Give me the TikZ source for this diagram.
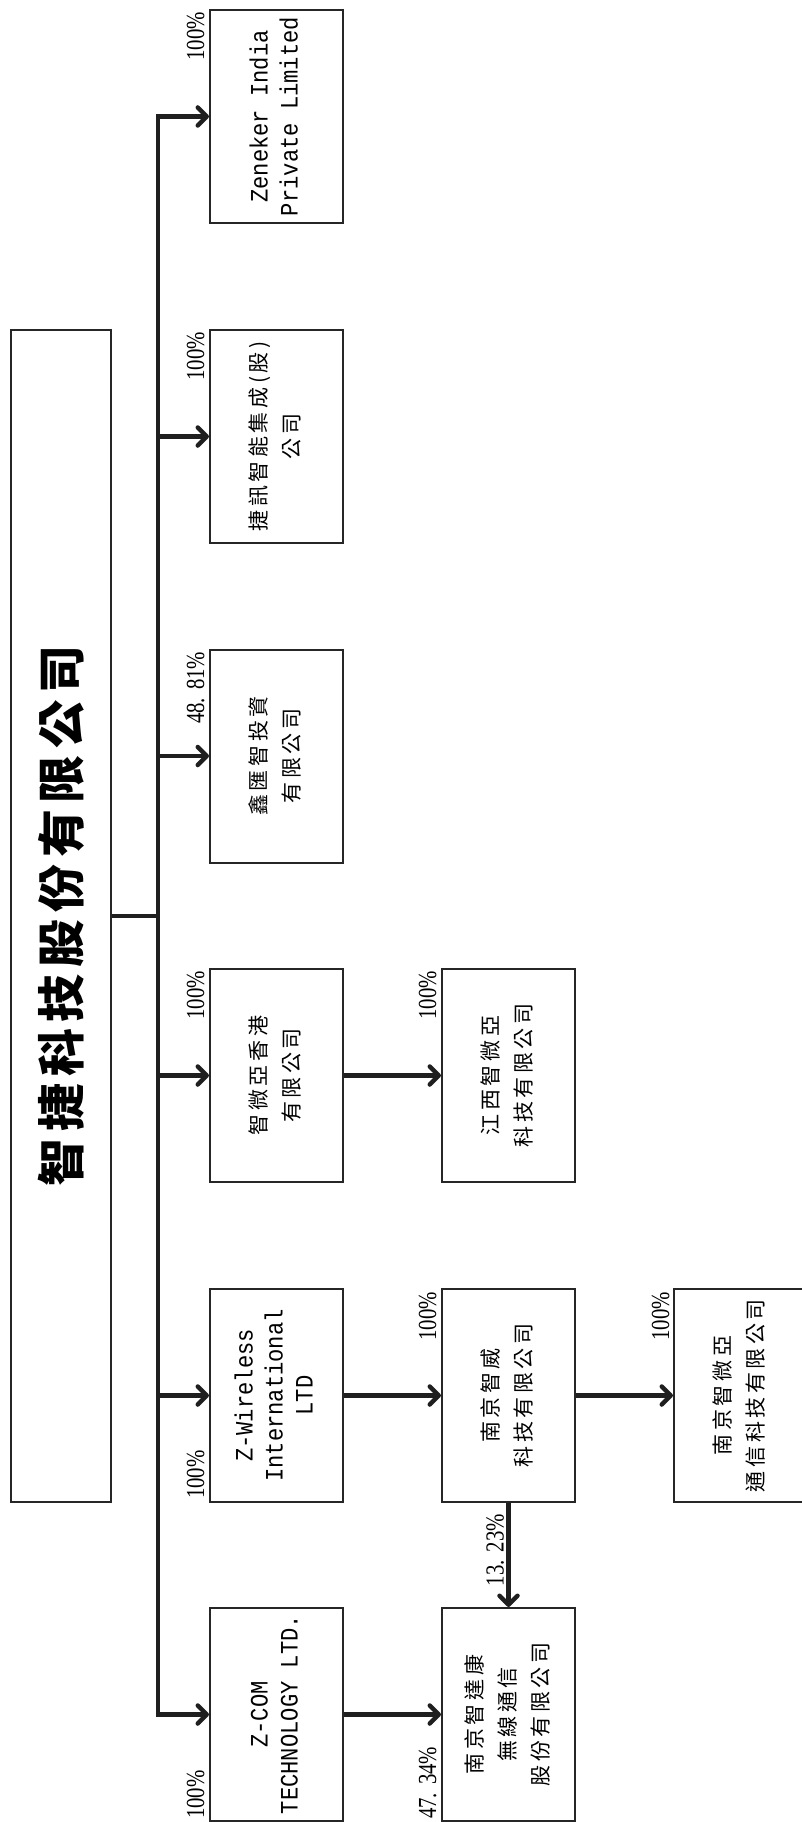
\documentclass[tikz,border=0pt]{standalone}
\usepackage{fontspec}
\usetikzlibrary{arrows.meta,calc}
\newfontfamily\cjkf[LetterSpace=17]{Noto Sans CJK TC}
\newfontfamily\cjkt[LetterSpace=14]{Noto Sans CJK TC}
\newfontfamily\monof[FakeStretch=0.885]{Liberation Mono}
\newfontfamily\pctf[FakeStretch=0.8]{Liberation Serif}
\newcommand\boxtxt[1]{\rotatebox{90}{\begin{tabular}{@{}c@{}}#1\end{tabular}}}
\tikzset{
  ent/.style={draw=black!85, line width=2pt, minimum width=133pt, minimum height=213pt,
    inner sep=0pt, font=\cjkf\fontsize{21}{33}\selectfont},
  lat/.style={font=\monof\fontsize{25}{30}\selectfont},
  pctlab/.style={rotate=90, inner sep=0pt, font=\pctf\fontsize{26}{26}\selectfont},
  link/.style={line width=4.5pt, draw=black!88},
  arr/.style={link, -{Straight Barb[length=9pt,width=18pt,round]}},
}
\begin{document}
\begin{tikzpicture}[x=1pt,y=-1pt]
\useasboundingbox (0,0) rectangle (801,1822);
\fill[white] (0,0) rectangle (801,1822);
% main box
\node[ent, minimum width=100pt, minimum height=1172pt,
      font=\cjkt\bfseries\fontsize{48}{48}\selectfont] (main) at (61,916)
      {\rotatebox{90}{智捷科技股份有限公司}};
% column 1
\node[ent, lat] (zen) at (276.5,116.5) {\boxtxt{Zeneker India\\Private Limited}};
\node[ent] (jx) at (276.5,436.5) {\boxtxt{捷訊智能集成(股)\\公司}};
\node[ent] (xh) at (276.5,756) {\boxtxt{鑫匯智投資\\有限公司}};
\node[ent] (hk) at (276.5,1075.5) {\boxtxt{智微亞香港\\有限公司}};
\node[ent, lat] (zw) at (276.5,1395.5) {\boxtxt{Z-Wireless\\International\\LTD}};
\node[ent, lat] (zc) at (276.5,1714.5) {\boxtxt{Z-COM\\TECHNOLOGY LTD.}};
% column 2
\node[ent] (jxw) at (508.5,1075.5) {\boxtxt{江西智微亞\\科技有限公司}};
\node[ent] (nw) at (508.5,1395.5) {\boxtxt{南京智威\\科技有限公司}};
\node[ent] (nd) at (508.5,1714.5) {\boxtxt{南京智達康\\無線通信\\股份有限公司}};
% column 3
\node[ent] (n3) at (740.5,1395.5) {\boxtxt{南京智微亞\\通信科技有限公司}};
% connectors
\coordinate (bus) at (158,916);
\draw[link] (main.east) -- (main.east -| bus);
\draw[arr] (bus) |- (zen.west);
\draw[arr] (bus) |- (zc.west);
\draw[arr] (jx.west -| bus) -- (jx.west);
\draw[arr] (xh.west -| bus) -- (xh.west);
\draw[arr] (hk.west -| bus) -- (hk.west);
\draw[arr] (zw.west -| bus) -- (zw.west);
\draw[arr] (hk.east) -- (jxw.west);
\draw[arr] (zw.east) -- (nw.west);
\draw[arr] (zc.east) -- (nd.west);
\draw[arr] (nw.south) -- (nd.north);
\draw[arr] (nw.east) -- (n3.west);
% percentage labels
\node[pctlab, anchor=base east] (pzen) at ($(zen.north west)+(-5,3)$) {100\%};
\node[pctlab, anchor=base east] (pjx) at ($(jx.north west)+(-5,3)$) {100\%};
\node[pctlab, anchor=base east] (pxh) at ($(xh.north west)+(-5,3)$) {48.\kern8pt81\%};
\node[pctlab, anchor=base east] (phk) at ($(hk.north west)+(-5,3)$) {100\%};
\node[pctlab, anchor=base west] (pzw) at ($(zw.south west)+(-5,-4)$) {100\%};
\node[pctlab, anchor=base west] (pzc) at ($(zc.south west)+(-5,-3)$) {100\%};
\node[pctlab, anchor=base east] (pjxw) at ($(jxw.north west)+(-5,3)$) {100\%};
\node[pctlab, anchor=base east] (pnw) at ($(nw.north west)+(-5,4)$) {100\%};
\node[pctlab, anchor=base west] (pnd) at ($(nd.south west)+(-5,-3)$) {47.\kern8pt34\%};
\node[pctlab, anchor=base east] (pn3) at ($(n3.north west)+(-4,4)$) {100\%};
\node[pctlab, anchor=base east] (pv) at ($(nw.south)+(-5,11)$) {13.\kern8pt23\%};
\end{tikzpicture}
\end{document}
